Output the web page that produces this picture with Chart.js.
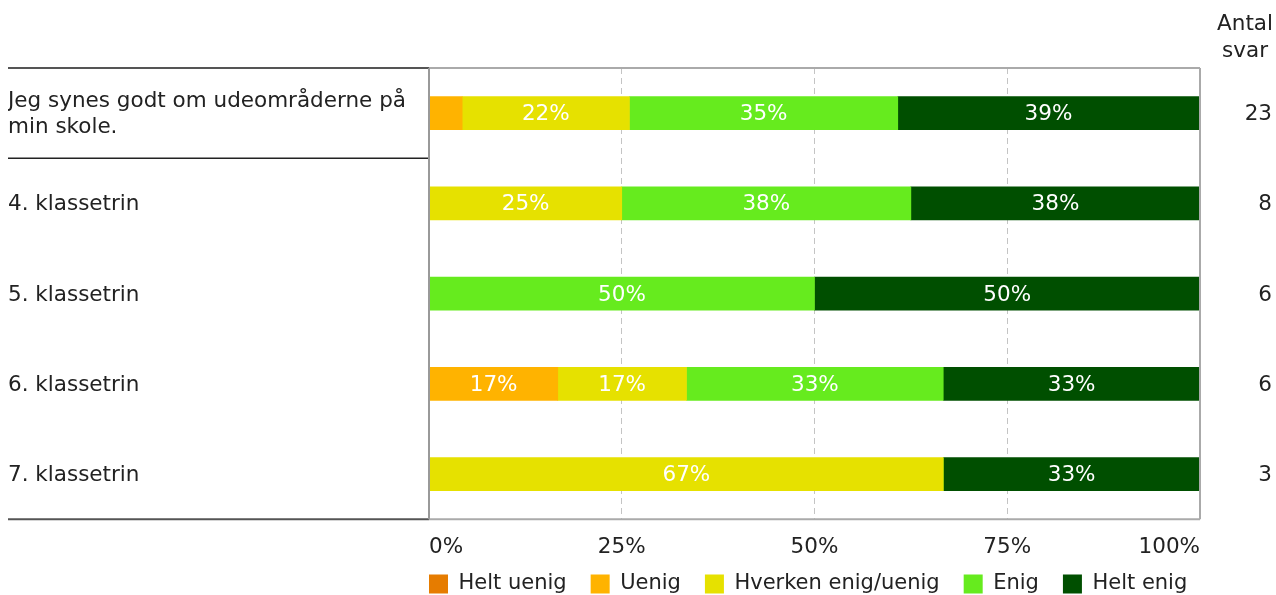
<!DOCTYPE html>
<html>
<head>
<meta charset="utf-8">
<script src="https://cdn.jsdelivr.net/npm/chart.js@4/dist/chart.umd.min.js"></script>
<style>
	body { margin: 0; background: #fff; }
	#wrap { width: 1276px; height: 595px; }
</style>
</head>
<body>
<div id="wrap"><canvas id="svarChart"></canvas></div>
<script>
// spørgsmål og klassetrin
const rowLabels = [
	['Jeg synes godt om udeområderne på', 'min skole.'],
	'4. klassetrin',
	'5. klassetrin',
	'6. klassetrin',
	'7. klassetrin'
];
const antalSvar = ['23', '8', '6', '6', '3'];
const xTicks = [0, 25, 50, 75, 100];

// procent pr. svarkategori (samme rækkefølge som rowLabels)
const heltUenig = [0, 0, 0, 0, 0];
const uenig     = [4.3, 0, 0, 16.7, 0];
const hverken   = [21.7, 25, 0, 16.7, 66.7];
const enig      = [34.8, 37.5, 50, 33.3, 0];
const heltEnig  = [39.1, 37.5, 50, 33.3, 33.3];

const FONT = 'DejaVu Sans';
const FS = 21.5;
const LEG_FS = 21;

document.addEventListener("DOMContentLoaded", function(){
	const ctx = document.getElementById('svarChart').getContext('2d');

	const data = {
		labels: rowLabels,
		datasets: [
			{ label: 'Helt uenig', data: heltUenig, backgroundColor: '#E67C00' },
			{ label: 'Uenig', data: uenig, backgroundColor: '#FFB300' },
			{ label: 'Hverken enig/uenig', data: hverken, backgroundColor: '#E6E100' },
			{ label: 'Enig', data: enig, backgroundColor: '#66EB1E' },
			{ label: 'Helt enig', data: heltEnig, backgroundColor: '#004F00' }
		]
	};

	// rammer og skillelinjer
	const frameLines = {
		id: 'frameLines',
		afterLayout(chart) {
			// legend starter ved plotområdets venstre kant
			const lg = chart.legend;
			const pad = lg.options.labels.padding;
			lg.left = chart.chartArea.left - pad;
			lg.top = 584 - pad - LEG_FS / 2;
		},
		afterDatasetsDraw(chart) {
			const c = chart.ctx;
			const a = chart.chartArea;
			const y = chart.scales.y;
			const left = 8;
			c.save();
			c.lineWidth = 2;
			c.strokeStyle = '#555';
			c.beginPath();
			c.moveTo(left, a.top); c.lineTo(a.left, a.top);
			c.moveTo(left, a.bottom); c.lineTo(a.left, a.bottom);
			c.stroke();
			c.lineWidth = 1.5;
			c.strokeStyle = '#222';
			const split = (y.getPixelForValue(0) + y.getPixelForValue(1)) / 2;
			c.beginPath();
			c.moveTo(left, split); c.lineTo(a.left, split);
			c.stroke();
			c.lineWidth = 2;
			c.strokeStyle = '#aaa';
			c.beginPath();
			c.moveTo(a.left, a.top); c.lineTo(a.right, a.top);
			c.moveTo(a.left, a.bottom); c.lineTo(a.right, a.bottom);
			c.moveTo(a.right, a.top); c.lineTo(a.right, a.bottom);
			c.stroke();
			c.strokeStyle = '#999';
			c.beginPath();
			c.moveTo(a.left, a.top); c.lineTo(a.left, a.bottom);
			c.stroke();

			// procenttal i søjlerne
			c.fillStyle = '#fff';
			c.font = FS + 'px "' + FONT + '"';
			c.textAlign = 'center';
			c.textBaseline = 'middle';
			chart.data.datasets.forEach(function(ds, i){
				chart.getDatasetMeta(i).data.forEach(function(bar, j){
					const v = ds.data[j];
					if (v >= 5) {
						c.fillText(Math.round(v) + '%', (bar.x + bar.base) / 2, bar.y + 1.5);
					}
				});
			});

			// kolonneoverskrift
			c.fillStyle = '#222';
			c.fillText('Antal', chart.width - 31, a.top - 44);
			c.fillText('svar', chart.width - 31, a.top - 16.5);
			c.restore();
		}
	};

	const svarChart = new Chart(ctx, {
		type: 'bar',
		data: data,
		options: {
			indexAxis: 'y',
			responsive: true,
			maintainAspectRatio: false,
			animation: false,
			layout: { padding: { left: 8, right: 4, top: 68, bottom: -35 } },
			datasets: { bar: { barThickness: 33 } },
			scales: {
				x: {
					stacked: true,
					min: 0,
					max: 100,
					afterBuildTicks: function(scale){
						scale.ticks = xTicks.map(v => ({ value: v }));
					},
					ticks: {
						align: 'inner',
						maxRotation: 0,
						padding: 15,
						color: '#222',
						font: { family: FONT, size: FS },
						callback: v => v + '%'
					},
					grid: {
						drawTicks: false,
						color: c => (c.tick && c.tick.value > 0 && c.tick.value < 100) ? '#c4c4c4' : 'rgba(0,0,0,0)'
					},
					border: { display: false, dash: [6, 4] }
				},
				y: {
					stacked: true,
					afterFit: function(scale){ scale.width = 421; },
					ticks: {
						crossAlign: 'far',
						autoSkip: false,
						padding: 0,
						labelOffset: 1.5,
						color: '#222',
						font: { family: FONT, size: FS }
					},
					grid: { display: false },
					border: { display: false }
				},
				y2: {
					type: 'category',
					position: 'right',
					labels: antalSvar,
					offset: true,
					afterFit: function(scale){ scale.width = 72; },
					ticks: {
						crossAlign: 'far',
						padding: 0,
						labelOffset: 1.5,
						color: '#222',
						font: { family: FONT, size: FS }
					},
					grid: { display: false },
					border: { display: false }
				}
			},
			plugins: {
				tooltip: { enabled: false },
				legend: {
					position: 'bottom',
					align: 'start',
					labels: {
						boxWidth: 19,
						boxHeight: 19,
						padding: 24,
						color: '#222',
						font: { family: FONT, size: LEG_FS }
					}
				}
			}
		},
		plugins: [frameLines]
	});
});
</script>
</body>
</html>
